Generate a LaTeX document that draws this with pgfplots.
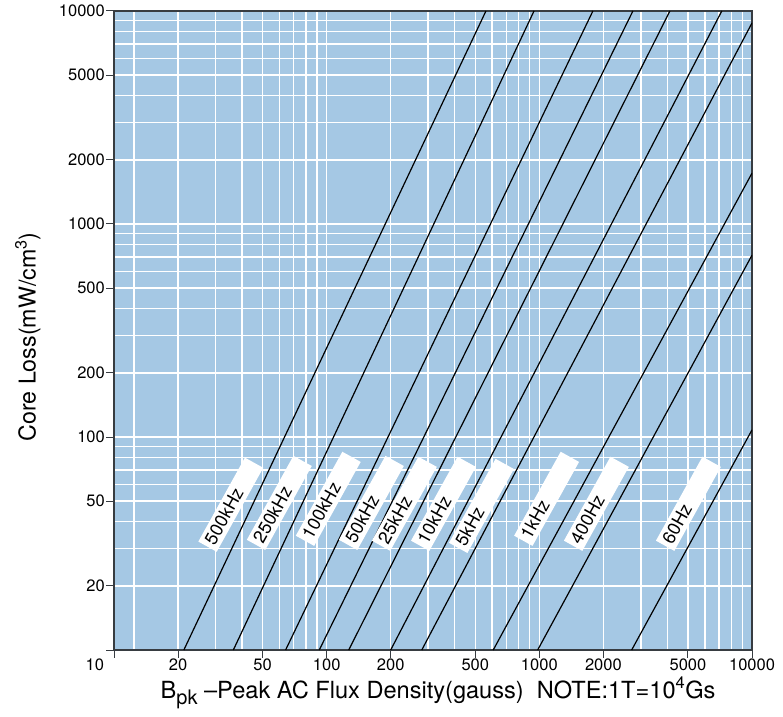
\documentclass[border=0pt]{standalone}
\usepackage{fontspec}
\setmainfont{TeX Gyre Heros}
\usepackage{pgfplots}
\pgfplotsset{compat=1.18}
\definecolor{bgblue}{RGB}{165,200,228}
\definecolor{framec}{RGB}{55,60,65}
\begin{document}
\begin{tikzpicture}
\path[use as bounding box] (-114pt,-66pt) rectangle (669pt,650pt);
\begin{axis}[
  at={(0,0)}, anchor=south west,
  scale only axis, width=638pt, height=639pt,
  xmode=log, ymode=log,
  xmin=10, xmax=10000, ymin=10, ymax=10000,
  axis background/.style={fill=bgblue},
  axis line style={framec, line width=1.2pt},
  xtick={10,20,50,100,200,500,1000,2000,5000,10000},
  xticklabels={\llap{10\hspace{10pt}},20,50,100,200,500,1000,2000,5000,10000},
  ytick={10,20,50,100,200,500,1000,2000,5000,10000},
  yticklabels={,20,50,100,200,500,1000,2000,5000,10000},
  minor xtick={12.4,30,40,60,70,80,90,300,400,600,700,800,900,3000,4000,6000,7000,8000,9000},
  minor ytick={30,40,60,70,80,90,300,400,600,700,800,900,3000,4000,6000,7000,8000,9000},
  grid=both,
  major grid style={white, line width=1.4pt},
  minor grid style={white, line width=1.4pt},
  tick align=outside, xtick pos=bottom, ytick pos=left,
  major tick length=8pt, minor tick length=0pt,
  tick style={framec, line width=1pt},
  /pgf/number format/assume math mode=true,
  ticklabel style={font=\fontsize{16.5}{16.5}\selectfont},
  xticklabel style={inner sep=1pt},
  yticklabel style={inner sep=1pt},
  xlabel={B\raisebox{-6pt}{\fontsize{20}{20}\selectfont pk} –Peak AC Flux Density(gauss)\ \ NOTE:1T=10\textsuperscript{4}Gs},
  xlabel style={at={(axis description cs:0.508,-0.067)}, anchor=center, font=\fontsize{23.6}{23.6}\selectfont},
  ylabel={Core Loss(mW/cm\textsuperscript{3})},
  ylabel style={at={(axis description cs:-0.135,0.49)}, anchor=center, font=\fontsize{23.2}{23.2}\selectfont},
]
\addplot[black, line width=1.2pt] coordinates {(21.3,10) (561,10000)};
\addplot[black, line width=1.2pt] coordinates {(36.4,10) (944,10000)};
\addplot[black, line width=1.2pt] coordinates {(64.1,10) (1786,10000)};
\addplot[black, line width=1.2pt] coordinates {(92.3,10) (2754,10000)};
\addplot[black, line width=1.2pt] coordinates {(127,10) (4111,10000)};
\addplot[black, line width=1.2pt] coordinates {(200,10) (7211,10000)};
\addplot[black, line width=1.2pt] coordinates {(280,10) (10000,8790)};
\addplot[black, line width=1.2pt] coordinates {(607,10) (10000,1733)};
\addplot[black, line width=1.2pt] coordinates {(982,10) (10000,714)};
\addplot[black, line width=1.2pt] coordinates {(2717,10) (10000,108)};
\tikzset{flab/.style={fill=white, rotate=61, anchor=west, inner xsep=4pt, inner ysep=3.5pt, text height=13pt, text depth=1pt, font=\fontsize{18}{18}\selectfont}}
\node[flab] at (axis cs:27.5,30.5) {\makebox[88pt][l]{500kHz}};
\node[flab] at (axis cs:46.5,31.1) {\makebox[88pt][l]{250kHz}};
\node[flab] at (axis cs:79,32.5) {\makebox[88pt][l]{100kHz}};
\node[flab] at (axis cs:126,31.1) {\makebox[88pt][l]{50kHz}};
\node[flab] at (axis cs:180,30.8) {\makebox[88pt][l]{25kHz}};
\node[flab] at (axis cs:275,30.8) {\makebox[88pt][l]{10kHz}};
\node[flab] at (axis cs:415,30.1) {\makebox[88pt][l]{5kHz}};
\node[flab] at (axis cs:840,32.5) {\makebox[88pt][l]{1kHz}};
\node[flab] at (axis cs:1440,30.8) {\makebox[88pt][l]{400Hz}};
\node[flab] at (axis cs:3900,30.8) {\makebox[88pt][l]{60Hz}};
\end{axis}
\end{tikzpicture}
\end{document}
